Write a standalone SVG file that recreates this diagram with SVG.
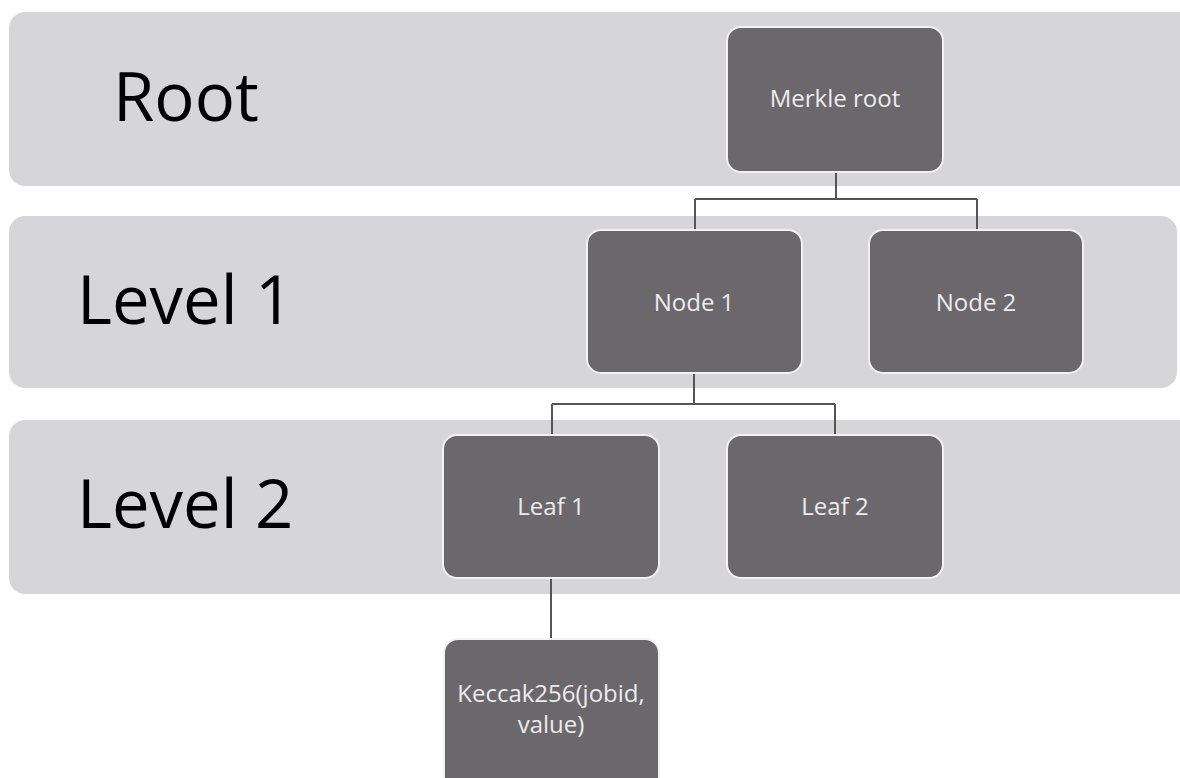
<svg xmlns="http://www.w3.org/2000/svg" width="1180" height="778" viewBox="0 0 1180 778">
<style>
.band{fill:#d6d5d8;}
.lvl{font-family:"Open Sans",sans-serif;font-size:67px;fill:#000;}
.box{fill:#6b686c;stroke:#f2f2f2;stroke-width:2;}
.lbl{font-family:"Open Sans",sans-serif;font-size:24px;fill:#ececec;text-anchor:middle;}
.con{fill:none;stroke:#555;stroke-width:2;}
</style>
<rect width="1180" height="778" fill="#ffffff"/>
<g id="bands">
<rect class="band" x="9" y="12" width="1190" height="174" rx="16"/>
<rect class="band" x="9" y="216" width="1168" height="172" rx="16"/>
<rect class="band" x="9" y="420" width="1190" height="174" rx="16"/>
<text class="lvl" x="113" y="121">Root</text>
<text class="lvl" x="77" y="324">Level 1</text>
<text class="lvl" x="77" y="528">Level 2</text>
</g>
<g id="connectors">
<path class="con" d="M836 172 V199 M695 199 H977 M695 199 V230 M977 199 V230"/>
<path class="con" d="M694 373 V404 M552 404 H835 M552 404 V435 M835 404 V435"/>
<path class="con" d="M551 578 V639"/>
</g>
<g id="merkle-root">
<rect class="box" x="727" y="27" width="216" height="145" rx="14"/>
<text class="lbl" x="835" y="107">Merkle root</text>
</g>
<g id="node1">
<rect class="box" x="587" y="230" width="215" height="143" rx="14"/>
<text class="lbl" x="694" y="311">Node 1</text>
</g>
<g id="node2">
<rect class="box" x="869" y="230" width="214" height="143" rx="14"/>
<text class="lbl" x="976" y="311">Node 2</text>
</g>
<g id="leaf1">
<rect class="box" x="443" y="435" width="216" height="143" rx="14"/>
<text class="lbl" x="551" y="515">Leaf 1</text>
</g>
<g id="leaf2">
<rect class="box" x="727" y="435" width="216" height="143" rx="14"/>
<text class="lbl" x="835" y="515">Leaf 2</text>
</g>
<g id="keccak">
<rect class="box" x="444" y="639" width="215" height="160" rx="14"/>
<text class="lbl" x="551" y="702">Keccak256(jobid,</text>
<text class="lbl" x="551" y="733">value)</text>
</g>
</svg>
